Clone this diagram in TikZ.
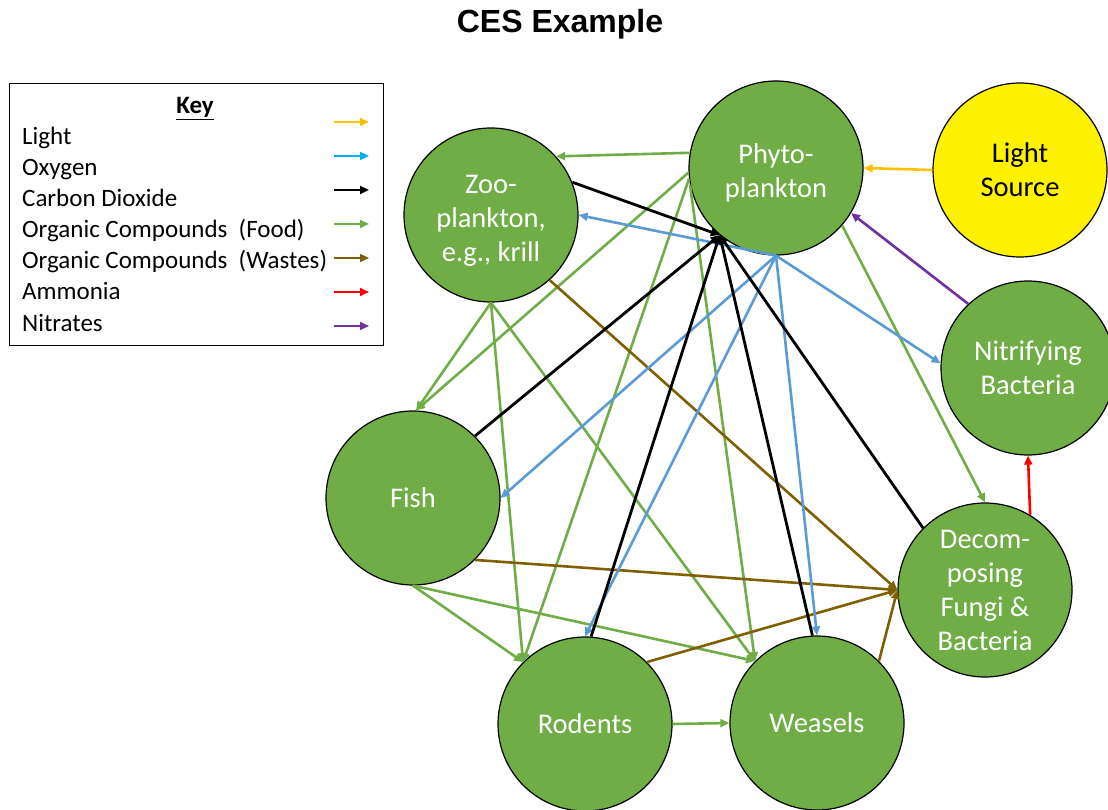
\documentclass[tikz,border=0pt]{standalone}
\usepackage{fontspec}
\setmainfont{Carlito}
\newfontfamily\titlefont{Liberation Sans}
\usetikzlibrary{arrows.meta}

\definecolor{leaf}{HTML}{70AD47}
\definecolor{sky}{HTML}{5B9BD5}
\definecolor{keysky}{HTML}{00B0F0}
\definecolor{amber}{HTML}{FFC000}
\definecolor{mud}{HTML}{7F6000}
\definecolor{grape}{HTML}{7030A0}

\begin{document}
\begin{tikzpicture}[x=1pt,y=-1pt,line join=round,
    org/.style={circle,draw=black,line width=1.2pt,fill=leaf,minimum size=174pt,inner sep=0pt,
      align=center,text=white,font=\fontsize{28.5}{34}\selectfont},
    flow/.style={line width=2.6pt,-{Triangle[length=9pt,width=8pt]}},
    food/.style={flow,leaf},
    oxy/.style={flow,sky},
    co2/.style={flow,black,line width=2.8pt},
    waste/.style={flow,mud},
    nh3/.style={flow,red},
    no3/.style={flow,grape},
    lite/.style={flow,amber}]
    \useasboundingbox (0,0) rectangle (1108,810);
    % title
    \node[font=\titlefont\bfseries\fontsize{32}{38}\selectfont,anchor=base] (title) at (560,33) {CES Example};
    % key
    \node[draw,line width=1pt,minimum width=374pt,minimum height=262pt,anchor=north west,inner sep=0pt] (keybox) at (9,83) {};
    \node[font=\fontsize{25}{30}\selectfont,anchor=base] (keyhead) at (195,114) {\underline{\textbf{Key}}};
    \foreach \txt/\col [count=\i] in {Light/amber,Oxygen/keysky,Carbon Dioxide/black,
        Organic Compounds~~(Food)/leaf,Organic Compounds~~(Wastes)/mud,Ammonia/red,Nitrates/grape}{
      \node[font=\fontsize{25}{30}\selectfont,anchor=base west,inner sep=0pt] (key\i) at (22,{114+31*\i}) {\txt};
      \coordinate (ka\i) at (334,{88+34*\i});
      \coordinate (kb\i) at (369,{88+34*\i});
      \draw[flow,\col] (ka\i) -- (kb\i);
    }
    % organisms
    \node[org] (phyto) at (776,168) {\rule{0pt}{30pt}Phyto-\\plankton};
    \node[org] (zoo) at (491,215) {\rule{0pt}{30pt}Zoo-\\plankton,\\e.g., krill};
    \node[org,fill=yellow,text=black] (light) at (1020,170) {Light\\Source};
    \node[org] (nitr) at (1028,368) {Nitrifying\\Bacteria};
    \node[org] (fish) at (413,498) {Fish};
    \node[org] (decomp) at (985,590) {Decom-\\posing\\Fungi \&\\Bacteria};
    \node[org] (rodents) at (585,724) {Rodents};
    \node[org] (weasels) at (817,723) {Weasels};
    % food
    \draw[food] (phyto.170) -- (zoo.42);
    \draw[food] (phyto.183) -- (fish.88);
    \draw[food] (phyto.187) -- (rodents.135);
    \draw[food] (phyto.191) -- (weasels.135);
    \draw[food] (phyto.-41) -- (decomp.90);
    \draw[food] (zoo.270) -- (fish.88);
    \draw[food] (zoo.270) -- (rodents.135);
    \draw[food] (zoo.270) -- (weasels.135);
    \draw[food] (fish.270) -- (rodents.135);
    \draw[food] (fish.270) -- (weasels.135);
    \draw[food] (rodents.east) -- (weasels.west);
    % wastes
    \draw[waste] (zoo.-48) -- (decomp.180);
    \draw[waste] (fish.-45) -- (decomp.180);
    \draw[waste] (rodents.45) -- (decomp.180);
    \draw[waste] (weasels.45) -- (decomp.180);
    % oxygen
    \draw[oxy] (phyto.270) -- (zoo.0);
    \draw[oxy] (phyto.270) -- (fish.0);
    \draw[oxy] (phyto.270) -- (rodents.90);
    \draw[oxy] (phyto.270) -- (weasels.90);
    \draw[oxy] (phyto.270) -- (nitr.177);
    % carbon dioxide
    \draw[co2] (zoo.22) -- (phyto.230);
    \draw[co2] (fish.45) -- (phyto.230);
    \draw[co2] (rodents.86) -- (phyto.230);
    \draw[co2] (weasels.93) -- (phyto.230);
    \draw[co2] (decomp.135) -- (phyto.230);
    % the rest
    \draw[nh3] (decomp.59) -- (nitr.270);
    \draw[no3] (nitr.133) -- (phyto.-31);
    \draw[lite] (light.180) -- (phyto.0);
\end{tikzpicture}
\end{document}
